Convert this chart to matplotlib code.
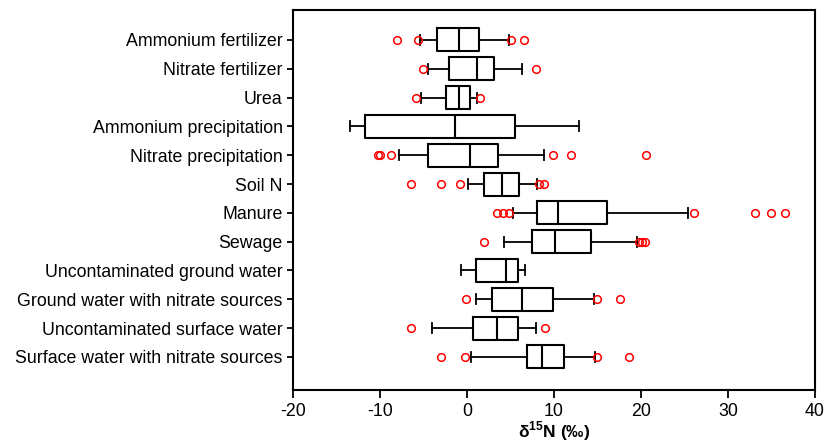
import matplotlib.pyplot as plt

plt.rcParams['font.family'] = ['Liberation Sans', 'DejaVu Sans']
plt.rcParams['mathtext.fontset'] = 'custom'
plt.rcParams['mathtext.rm'] = 'Liberation Sans'
plt.rcParams['mathtext.bf'] = 'Liberation Sans:bold'
plt.rcParams['axes.unicode_minus'] = False

# categories, top to bottom
sources = ["Ammonium fertilizer", "Nitrate fertilizer", "Urea",
           "Ammonium precipitation", "Nitrate precipitation", "Soil N",
           "Manure", "Sewage", "Uncontaminated ground water",
           "Ground water with nitrate sources", "Uncontaminated surface water",
           "Surface water with nitrate sources"]

# box statistics (d15N, permil)
whisker_low = [-5.4, -4.5, -5.3, -13.4, -7.8, 0.1, 5.3, 4.3, -0.7, 1.0, -4.0, 0.5]
q1 = [-3.4, -2.1, -2.4, -11.7, -4.5, 2.0, 8.0, 7.5, 1.0, 2.9, 0.7, 6.9]
median = [-0.9, 1.1, -0.9, -1.4, 0.3, 4.0, 10.5, 10.1, 4.5, 6.3, 3.5, 8.6]
q3 = [1.4, 3.1, 0.3, 5.5, 3.6, 6.0, 16.1, 14.3, 5.9, 9.9, 5.9, 11.2]
whisker_high = [4.8, 6.3, 1.2, 12.9, 8.8, 8.0, 25.4, 19.5, 6.7, 14.6, 7.9, 14.7]
outliers = [
    [-8.0, -5.6, 5.1, 6.6],
    [-5.1, 7.9],
    [-5.9, 1.5],
    [],
    [-10.2, -10.0, -8.7, 9.9, 11.9, 20.6],
    [-6.4, -3.0, -0.8, 8.3, 8.9],
    [3.5, 4.1, 4.8, 26.1, 33.1, 34.9, 36.6],
    [1.9, 19.8, 20.1, 20.5],
    [],
    [-0.1, 14.9, 17.6],
    [-6.4, 9.0],
    [-3.0, -0.2, 14.9, 18.6],
]

stats = []
for i, name in enumerate(sources):
    stats.append(dict(label=name, whislo=whisker_low[i], q1=q1[i], med=median[i],
                      q3=q3[i], whishi=whisker_high[i], fliers=outliers[i]))

fig = plt.figure(figsize=(8.27, 4.43), dpi=100)
ax = fig.add_axes([0.3543, 0.1196, 0.6312, 0.8578])

ax.bxp(stats, positions=range(len(sources)), vert=False, widths=0.8,
       capwidths=0.35, showfliers=True,
       boxprops=dict(color='black', linewidth=1.5),
       medianprops=dict(color='black', linewidth=1.5),
       whiskerprops=dict(color='black', linewidth=1.3),
       capprops=dict(color='black', linewidth=1.3),
       flierprops=dict(marker='o', markerfacecolor='none',
                       markeredgecolor='red', markersize=5.5, markeredgewidth=1.1))

ax.set_xlim(-20, 40)
ax.set_ylim(12.15, -1.04)
ax.set_xticks([-20, -10, 0, 10, 20, 30, 40])
ax.set_yticks(range(len(sources)))
ax.set_yticklabels(sources)
ax.tick_params(axis='both', labelsize=12.8, width=1.3, direction='out')
ax.tick_params(axis='x', length=6, pad=3)
ax.tick_params(axis='y', length=4)
for s in ax.spines.values():
    s.set_linewidth(1.5)

ax.set_xlabel(r'δ$^{\mathbf{15}}$N (‰)', fontsize=12.5, fontweight='bold', labelpad=0)

fig.savefig('out.png', dpi=100)
